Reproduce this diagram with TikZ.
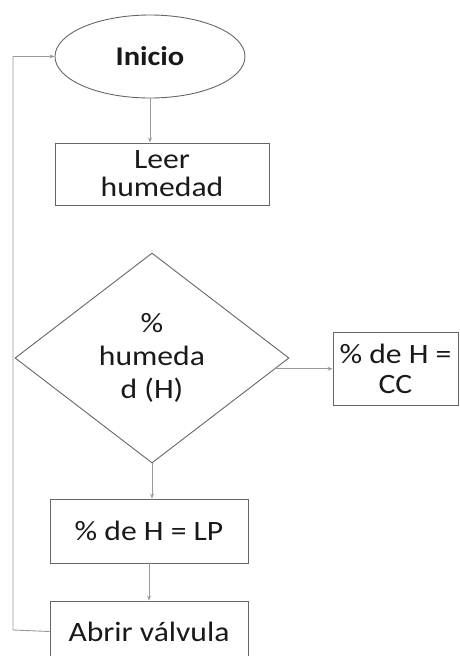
\documentclass[tikz,border=0pt]{standalone}
\usepackage{fontspec}
\setmainfont[FakeStretch=1.13]{Carlito}
\usetikzlibrary{shapes.geometric,arrows.meta}

\begin{document}
\begin{tikzpicture}[x=1pt,y=-1pt,
	box/.style={draw=black!60,line width=0.9pt,rectangle,inner sep=0pt,align=center,text=black!90,font=\fontsize{28}{28}\selectfont},
	link/.style={draw=black!40,line width=0.9pt,-{Stealth[length=5pt,width=4pt]}}]
	\useasboundingbox (0,0) rectangle (459,656);

	\node[box,ellipse,minimum width=190pt,minimum height=83pt,font=\fontsize{27}{28}\selectfont\bfseries] (inicio) at (150,56.5) {Inicio};
	\node[box,minimum width=214pt,minimum height=62pt] (leer) at (162,174) {Leer\\humedad};
	\node[box,diamond,aspect=1.3,minimum width=274pt,minimum height=210pt,font=\fontsize{28}{33}\selectfont] (humedad) at (152,358) {\%\\humeda\\d (H)};
	\node[box,minimum width=125pt,minimum height=73pt,font=\fontsize{28}{30}\selectfont] (cc) at (395.5,369) {\% de H =\\CC};
	\node[box,minimum width=198pt,minimum height=64pt] (lp) at (149,531) {\% de H = LP};
	\node[box,minimum width=198pt,minimum height=61pt] (abrir) at (149,631.5) {Abrir válvula};
	\coordinate (retorno) at (13,630);

	\draw[link] (inicio.south) -- (inicio.south |- leer.north);
	\draw[link] (humedad.-5) -- (humedad.-5 -| cc.west);
	\draw[link] (humedad.south) -- (humedad.south |- lp.north);
	\draw[link] (lp.south) -- (lp.south |- abrir.north);
	\draw[link] (abrir.west) -- (retorno) |- (inicio.west);
\end{tikzpicture}
\end{document}
